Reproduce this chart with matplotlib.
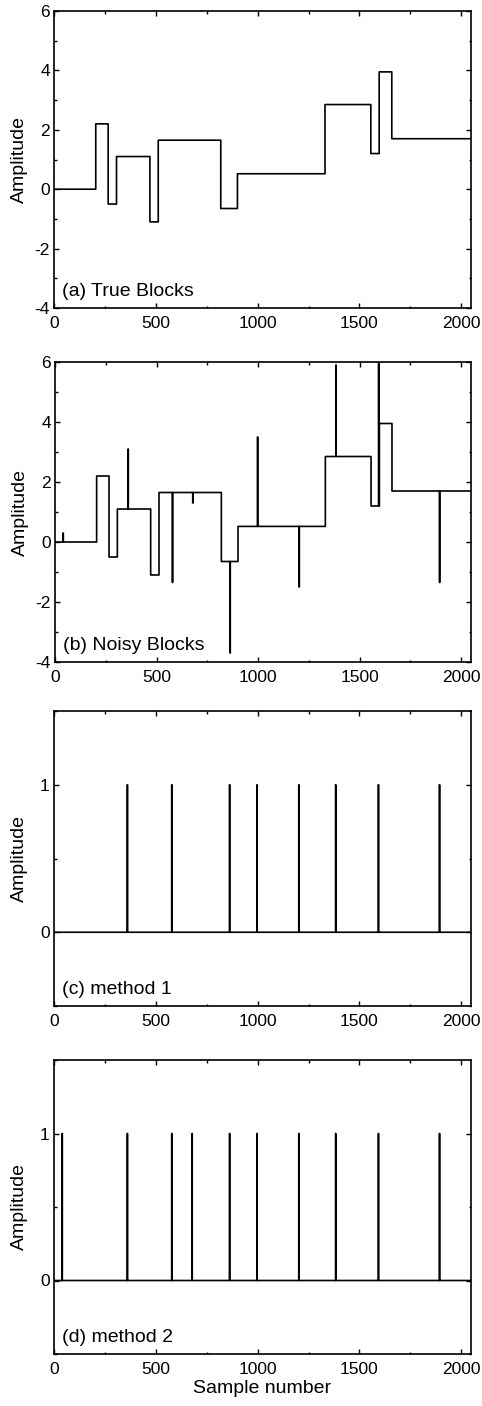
import numpy as np
import matplotlib
matplotlib.use("Agg")
import matplotlib.pyplot as plt
from matplotlib.ticker import MultipleLocator

plt.rcParams['font.family'] = ['Liberation Sans', 'DejaVu Sans']
plt.rcParams['axes.unicode_minus'] = False

# ---- data ----
n_samples = 2048
block_edges = [0, 205, 266, 307, 471, 512, 819, 901, 1331, 1556, 1597, 1659, 2048]
block_levels = [0.0, 2.2, -0.5, 1.1, -1.1, 1.65, -0.65, 0.52, 2.85, 1.2, 3.95, 1.7]

spike_pos = [40, 360, 578, 678, 862, 997, 1202, 1383, 1593, 1893]
spike_val = [0.3, 3.1, -1.35, 1.3, -3.7, 3.5, -1.5, 5.9, 6.0, -1.35]

method1_pos = [360, 578, 862, 997, 1202, 1383, 1593, 1893]
method2_pos = [40, 360, 578, 678, 862, 997, 1202, 1383, 1593, 1893]

labels = ["(a) True Blocks", "(b) Noisy Blocks", "(c) method 1", "(d) method 2"]

# ---- build signals ----
x = np.arange(n_samples)
true_sig = np.zeros(n_samples)
for a, b, v in zip(block_edges[:-1], block_edges[1:], block_levels):
    true_sig[a:b] = v
noisy_sig = true_sig.copy()
for p, v in zip(spike_pos, spike_val):
    noisy_sig[p] = v
m1 = np.zeros(n_samples)
m1[method1_pos] = 1
m2 = np.zeros(n_samples)
m2[method2_pos] = 1

fig = plt.figure(figsize=(4.82, 14.06), dpi=100)
W, H = 482, 1406
boxes = [(54, 11, 471, 308), (55, 362, 471, 662), (54, 711, 471, 1006), (54, 1060, 471, 1354)]
signals = [true_sig, noisy_sig, m1, m2]

for i, ((l, t, r, b), sig, lab) in enumerate(zip(boxes, signals, labels)):
    ax = fig.add_axes([l / W, 1 - b / H, (r - l) / W, (b - t) / H])
    ax.plot(x, sig, drawstyle='steps-post', color='black', lw=1.2)
    ax.set_xlim(0, 2048)
    ax.xaxis.set_major_locator(MultipleLocator(500))
    ax.xaxis.set_minor_locator(MultipleLocator(250))
    if i < 2:
        ax.set_ylim(-4, 6)
        ax.yaxis.set_major_locator(MultipleLocator(2))
        ax.yaxis.set_minor_locator(MultipleLocator(1))
    else:
        ax.set_ylim(-0.5, 1.5)
        ax.set_yticks([0, 1])
        ax.yaxis.set_minor_locator(MultipleLocator(0.5))
    ax.tick_params(which='both', direction='in', top=True, right=True, width=1.0,
                   labelsize=12.5)
    ax.tick_params(which='major', length=3.6)
    ax.tick_params(which='minor', length=1.8)
    ax.tick_params(axis='x', pad=6)
    ax.tick_params(axis='y', pad=3)
    for s in ax.spines.values():
        s.set_linewidth(1.2)
    ax.set_ylabel("Amplitude", fontsize=14)
    ax.yaxis.set_label_coords(-0.062, 0.5)
    ax.text(0.02, 0.04, lab, transform=ax.transAxes, fontsize=14,
            ha='left', va='baseline')
    if i == 3:
        ax.set_xlabel("Sample number", fontsize=14, labelpad=2)

fig.savefig("out.png", dpi=100)
